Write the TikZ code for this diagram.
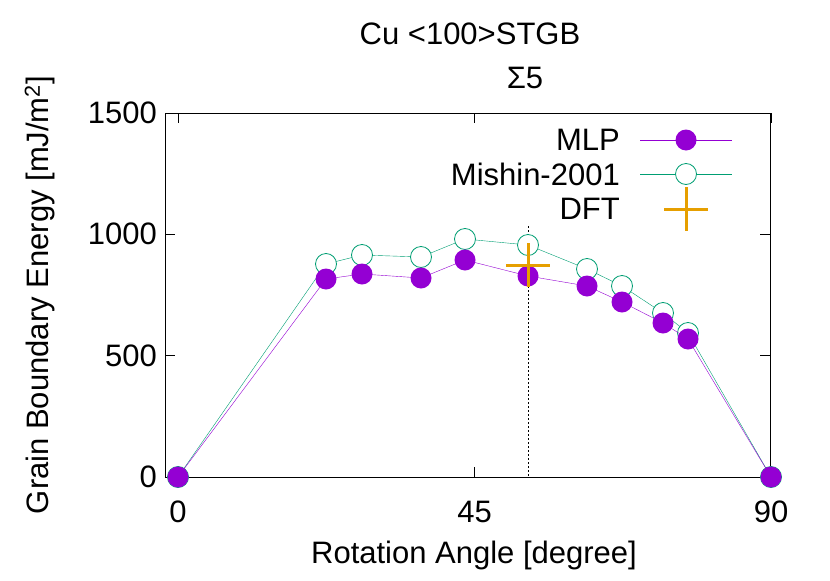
\documentclass[tikz,border=0pt]{standalone}
\usepackage{fontspec}
\setmainfont{Liberation Sans}
\usetikzlibrary{positioning}
\definecolor{mlpcol}{HTML}{9400D3}
\definecolor{mishcol}{HTML}{009E73}
\definecolor{dftcol}{HTML}{E69F00}
\tikzset{
    lbl/.style={font=\fontsize{31}{36}\selectfont, inner sep=0pt},
    mlpdot/.style={circle, fill=mlpcol, minimum size=21pt, inner sep=0pt},
    mishdot/.style={circle, draw=mishcol, thick, fill=white, minimum size=21pt, inner sep=0pt},
}
\newcommand{\Px}[1]{178+#1*6.5889}
\newcommand{\Py}[1]{477-#1*0.24267}
\begin{document}
\begin{tikzpicture}[x=1pt, y=-1pt]
    \useasboundingbox (0,0) rectangle (830,581);
    % frame and ticks
    \draw[line width=0.9pt] (165,113) rectangle (770,477);
    \foreach \v in {0,500,1000,1500} {
      \draw (165,{\Py{\v}}) -- ++(10,0);
      \draw (770,{\Py{\v}}) -- ++(-10,0);
      \node[lbl, anchor=east] (y\v) at (157,{\Py{\v}}) {\v};
    }
    \foreach \v in {0,45,90} {
      \draw ({\Px{\v}},477) -- ++(0,-10);
      \draw ({\Px{\v}},113) -- ++(0,10);
      \node[lbl] (x\v) at ({\Px{\v}},512) {\v};
    }
    \node[lbl] (xlab) at (474,555) {Rotation Angle [degree]};
    \node[lbl, rotate=90] (ylab) at (40,295) {Grain Boundary Energy [mJ/m\textsuperscript{2}]};
    \node[lbl] (title) at (470,34) {Cu <100>STGB};
    \node[lbl] (sigma) at (525,78) {Σ5};
    % marker line
    \coordinate (vtop) at (528,226);
    \coordinate (vbot) at (528,477);
    \draw[dashed, dash pattern=on 2pt off 2pt, thin] (vtop) -- (vbot);
    % Mishin
    \draw[mishcol, thin] (178,477) -- (326,264) -- (362,255) -- (421,257) -- (465,239) -- (528,245) -- (587,269) -- (622,286) -- (663,313) -- (688,333) -- (771,477);
    \foreach \x/\y in {178/477,326/264,362/255,421/257,465/239,528/245,587/269,622/286,663/313,688/333,771/477}
      \node[mishdot] at (\x,\y) {};
    % MLP
    \draw[mlpcol, thin] (178,477) -- (326,279) -- (362,274) -- (421,278) -- (465,260) -- (528,276) -- (587,286) -- (622,302) -- (663,323) -- (688,339) -- (771,477);
    \foreach \x/\y in {178/477,326/279,362/274,421/278,465/260,528/276,587/286,622/302,663/323,688/339,771/477}
      \node[mlpdot] at (\x,\y) {};
    % DFT
    \draw[dftcol, line width=3pt] (506,265) -- (550,265) (528,243) -- (528,287);
    % legend
    \node[lbl, anchor=east] (lmlp) at (620,140) {MLP};
    \draw[mlpcol, thin] (640,140) -- (732,140);
    \node[mlpdot] at (686,140) {};
    \node[lbl, anchor=east] (lmish) at (620,174) {Mishin-2001};
    \draw[mishcol, thin] (640,174) -- (732,174);
    \node[mishdot] at (686,174) {};
    \node[lbl, anchor=east] (ldft) at (620,209) {DFT};
    \draw[dftcol, line width=3pt] (664,209) -- (708,209) (686,187) -- (686,231);
\end{tikzpicture}
\end{document}
